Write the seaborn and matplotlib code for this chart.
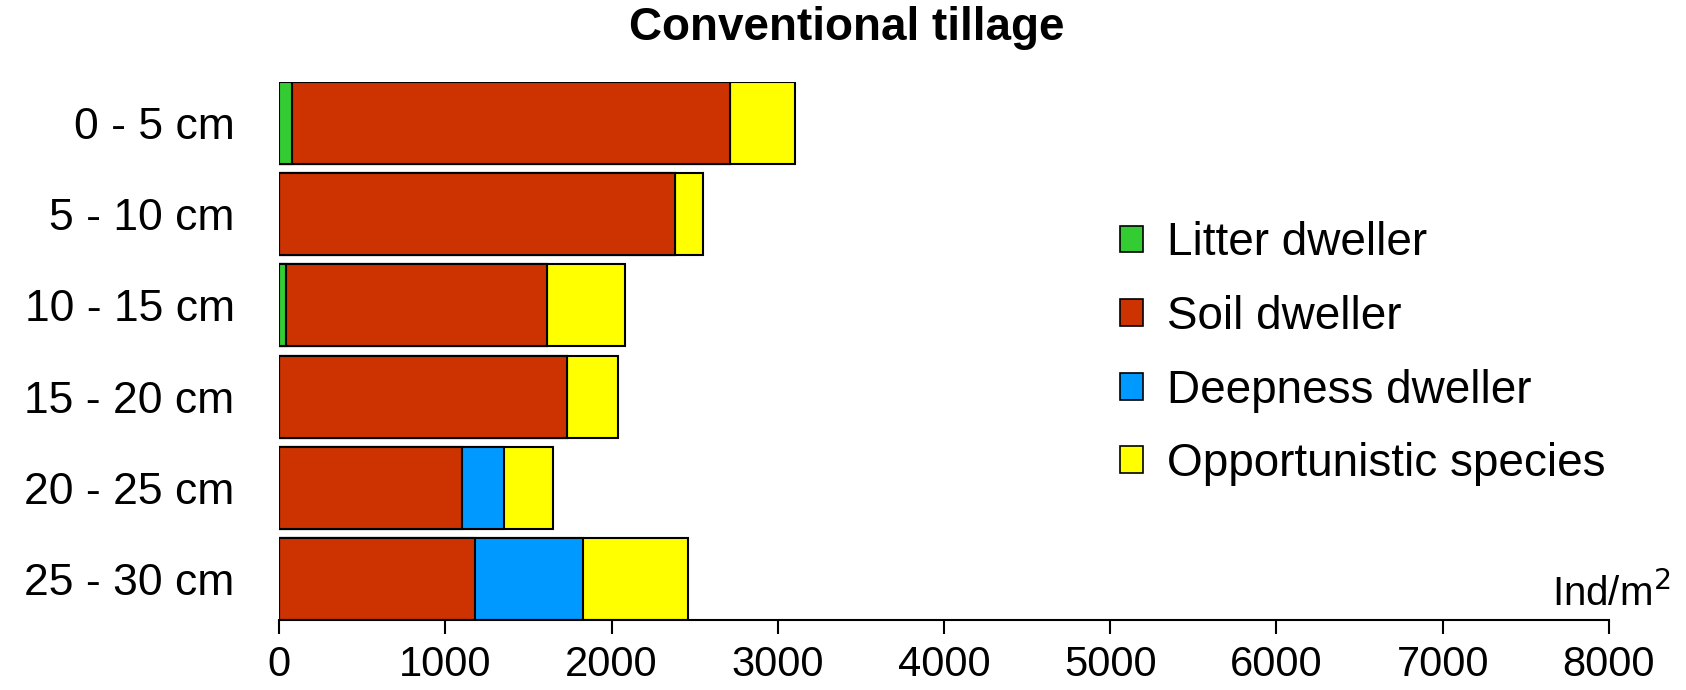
import matplotlib
matplotlib.use("Agg")
import matplotlib.pyplot as plt
from matplotlib.patches import Patch
import seaborn as sns
import pandas as pd

depths = ["0 - 5 cm", "5 - 10 cm", "10 - 15 cm", "15 - 20 cm", "20 - 25 cm", "25 - 30 cm"]
litter = [77, 0, 39, 0, 0, 0]
soil = [2636, 2379, 1571, 1733, 1100, 1180]
deep = [0, 0, 0, 0, 256, 648]
opportunistic = [391, 174, 472, 308, 295, 631]
series_names = ["Litter dweller", "Soil dweller", "Deepness dweller", "Opportunistic species"]
colors = ["#33CC33", "#CC3300", "#0099FF", "#FFFF00"]
x_ticks = [0, 1000, 2000, 3000, 4000, 5000, 6000, 7000, 8000]

sns.set_theme(style="white")
plt.rcParams["font.family"] = ["Liberation Sans", "DejaVu Sans"]
plt.rcParams["text.color"] = "black"
plt.rcParams["xtick.color"] = "black"
plt.rcParams["ytick.color"] = "black"

df = pd.DataFrame({"depth": depths, "litter": litter, "soil": soil,
                   "deep": deep, "opp": opportunistic})
df["c1"] = df["litter"]
df["c2"] = df["c1"] + df["soil"]
df["c3"] = df["c2"] + df["deep"]
df["c4"] = df["c3"] + df["opp"]

fig = plt.figure(figsize=(16.86, 6.9), dpi=100)
ax = fig.add_axes([0.1655, 0.1014, 0.7888, 0.7797])

for col, color in zip(["c4", "c3", "c2", "c1"], colors[::-1]):
    sns.barplot(data=df, x=col, y="depth", order=depths, orient="h",
                color=color, saturation=1, width=0.9, edgecolor="black",
                linewidth=1.5, ax=ax)

ax.set_xlim(0, 8000)
ax.set_ylim(5.45, -0.45)
ax.set_xticks(x_ticks)
ax.set_xticklabels([str(t) for t in x_ticks], fontsize=30)
ax.tick_params(axis="x", direction="out", length=10, width=1.5, color="black",
               bottom=True, pad=8, labelcolor="black")
ax.tick_params(axis="y", length=0, labelsize=32, pad=32, labelcolor="black")
ax.set_xlabel("")
ax.set_ylabel("")
for s in ["top", "right", "left"]:
    ax.spines[s].set_visible(False)
ax.spines["bottom"].set_color("black")
ax.spines["bottom"].set_linewidth(1.5)

ax.text(1.046, 0.012, "Ind/m$^2$", transform=ax.transAxes, ha="right", va="bottom",
        fontsize=29, color="black")

handles = [Patch(facecolor=c, edgecolor="black", linewidth=1.2, label=n)
           for c, n in zip(colors, series_names)]
ax.legend(handles=handles, loc="upper left", bbox_to_anchor=(0.632, 0.741),
          frameon=False, fontsize=33, handlelength=0.52, handleheight=0.52,
          labelspacing=0.645, handletextpad=0.52, borderpad=0, borderaxespad=0)

fig.text(0.502, 0.959, "Conventional tillage", fontsize=33, fontweight="bold",
         ha="center", va="center", color="black")

fig.savefig("out.png", dpi=100)
